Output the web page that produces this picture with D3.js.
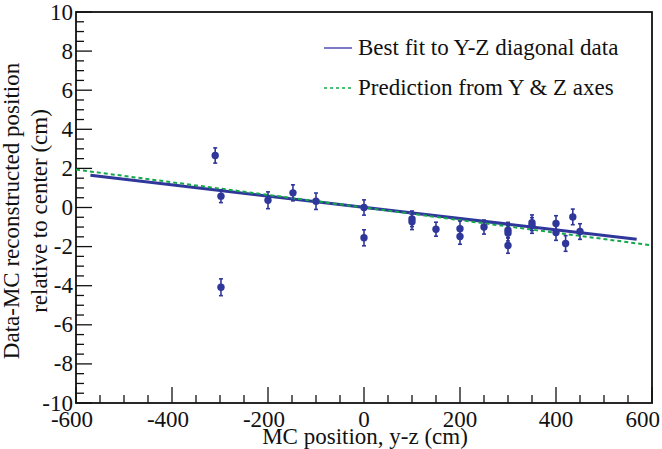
<!DOCTYPE html>
<html><head><meta charset="utf-8">
<script src="https://cdn.jsdelivr.net/npm/d3@7"></script>
<style>body{margin:0;background:#fff}svg{display:block}text{font-family:"Liberation Serif","Times New Roman",serif;fill:#111}</style>
</head><body><svg id="c" width="662" height="449"></svg>
<script>
// Data
const xValues = [-310, -298, -298, -200, -148, -100, 0, 0, 100, 100, 150, 200, 200, 250, 300, 300, 300, 350, 350, 400, 400, 420, 435, 450];
const yValues = [2.66, 0.58, -4.08, 0.37, 0.75, 0.32, 0.0, -1.55, -0.58, -0.73, -1.11, -1.09, -1.48, -1.0, -1.16, -1.31, -1.94, -0.78, -0.92, -0.82, -1.28, -1.84, -0.48, -1.23];
const yErrors = [0.39, 0.33, 0.43, 0.43, 0.41, 0.42, 0.39, 0.41, 0.4, 0.4, 0.36, 0.4, 0.4, 0.36, 0.4, 0.4, 0.4, 0.4, 0.4, 0.4, 0.4, 0.4, 0.4, 0.4];
const fitLine = {slope: -0.00287, intercept: 0.01, xmin: -570, xmax: 568};
const predLine = {slope: -0.00323, intercept: 0.0, xmin: -600, xmax: 600};
const xTicks = [-600, -400, -200, 0, 200, 400, 600];
const yTicks = [-10, -8, -6, -4, -2, 0, 2, 4, 6, 8, 10];
const legendLabels = ["Best fit to Y-Z diagonal data", "Prediction from Y & Z axes"];

const svg = d3.select("#c");
const L = 76, R = 652, T = 12, B = 403;
const FS = 23;
const x = d3.scaleLinear().domain([-600, 600]).range([L, R]);
const y = d3.scaleLinear().domain([-10, 10]).range([B, T]);
const blue = "#30379a", green = "#14a84a";

// minor ticks
const xMinor = d3.range(-600, 601, 50).filter(v => v % 200 !== 0);
const yMinor = d3.range(-10, 10.01, 0.5).filter(v => Math.abs(v % 2) > 1e-6);

const gx = svg.append("g").attr("transform", `translate(0,${B})`);
gx.selectAll("line.mn").data(xMinor).join("line").attr("x1", d => x(d)).attr("x2", d => x(d)).attr("y1", 0).attr("y2", -8).attr("stroke", "#111").attr("stroke-width", 1.3);
gx.selectAll("line.mj").data(xTicks).join("line").attr("x1", d => x(d)).attr("x2", d => x(d)).attr("y1", 0).attr("y2", -16).attr("stroke", "#111").attr("stroke-width", 1.3);
gx.selectAll("text").data(xTicks).join("text")
  .attr("x", (d, i) => i === xTicks.length - 1 ? 660 : x(d) - (d < 0 ? 4 : 0))
  .attr("y", 24)
  .attr("text-anchor", (d, i) => i === xTicks.length - 1 ? "end" : "middle")
  .attr("font-size", FS).text(d => d);

const gy = svg.append("g").attr("transform", `translate(${L},0)`);
gy.selectAll("line.mn").data(yMinor).join("line").attr("y1", d => y(d)).attr("y2", d => y(d)).attr("x1", 0).attr("x2", 8).attr("stroke", "#111").attr("stroke-width", 1.3);
gy.selectAll("line.mj").data(yTicks).join("line").attr("y1", d => y(d)).attr("y2", d => y(d)).attr("x1", 0).attr("x2", 16).attr("stroke", "#111").attr("stroke-width", 1.3);
gy.selectAll("text").data(yTicks).join("text").attr("x", -3).attr("y", d => y(d) + 7.5).attr("text-anchor", "end").attr("font-size", FS).text(d => d);

// frame
svg.append("rect").attr("x", L).attr("y", T).attr("width", R - L).attr("height", B - T).attr("fill", "none").attr("stroke", "#111").attr("stroke-width", 1.8);

// axis titles
svg.append("text").attr("x", (L + R) / 2 + 1).attr("y", 444).attr("text-anchor", "middle").attr("font-size", FS).text("MC position, y-z (cm)");
svg.append("text").attr("transform", "translate(19,211) rotate(-90)").attr("text-anchor", "middle").attr("font-size", FS).text("Data-MC reconstructed position");
svg.append("text").attr("transform", "translate(47,211) rotate(-90)").attr("text-anchor", "middle").attr("font-size", FS).text("relative to center (cm)");

// lines
const line = d3.line().x(d => x(d[0])).y(d => y(d[1]));
const pts = p => [[p.xmin, p.intercept + p.slope * p.xmin], [p.xmax, p.intercept + p.slope * p.xmax]];
svg.append("path").attr("d", line(pts(fitLine))).attr("stroke", blue).attr("stroke-width", 3).attr("fill", "none");
svg.append("path").attr("d", line(pts(predLine))).attr("stroke", green).attr("stroke-width", 2).attr("stroke-dasharray", "4,3").attr("fill", "none");

// points with error bars
const data = xValues.map((v, i) => ({x: v, y: yValues[i], e: yErrors[i]}));
const gp = svg.append("g");
gp.selectAll("line.eb").data(data).join("line").attr("x1", d => x(d.x)).attr("x2", d => x(d.x)).attr("y1", d => y(d.y - d.e)).attr("y2", d => y(d.y + d.e)).attr("stroke", blue).attr("stroke-width", 1.6);
gp.selectAll("line.c1").data(data).join("line").attr("x1", d => x(d.x) - 2).attr("x2", d => x(d.x) + 2).attr("y1", d => y(d.y - d.e)).attr("y2", d => y(d.y - d.e)).attr("stroke", blue).attr("stroke-width", 1.6);
gp.selectAll("line.c2").data(data).join("line").attr("x1", d => x(d.x) - 2).attr("x2", d => x(d.x) + 2).attr("y1", d => y(d.y + d.e)).attr("y2", d => y(d.y + d.e)).attr("stroke", blue).attr("stroke-width", 1.6);
gp.selectAll("circle").data(data).join("circle").attr("cx", d => x(d.x)).attr("cy", d => y(d.y)).attr("r", 3.7).attr("fill", blue);

// legend
const lg = svg.append("g");
lg.append("line").attr("x1", 324).attr("x2", 352).attr("y1", 48).attr("y2", 48).attr("stroke", "#7a7ac8").attr("stroke-width", 2);
lg.append("line").attr("x1", 324).attr("x2", 352).attr("y1", 88).attr("y2", 88).attr("stroke", green).attr("stroke-width", 1.6).attr("stroke-dasharray", "3,3");
lg.selectAll("text").data(legendLabels).join("text").attr("x", 358).attr("y", (d, i) => 55 + i * 40).attr("font-size", FS).text(d => d);
</script></body></html>
